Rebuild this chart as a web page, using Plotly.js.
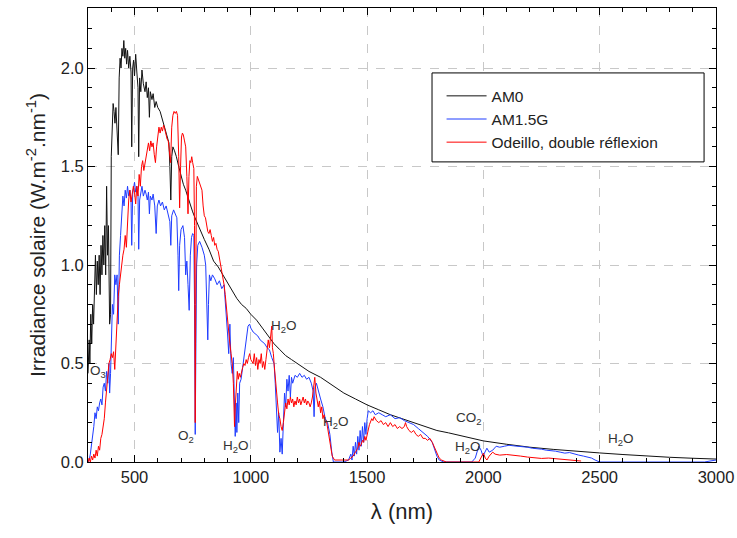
<!DOCTYPE html>
<html>
<head>
<meta charset="utf-8">
<script src="https://cdn.plot.ly/plotly-3.0.1.min.js"></script>
<style>html,body{margin:0;padding:0;background:#fff;}#chart{width:737px;height:538px;}</style>
</head>
<body>
<div id="chart"></div>
<script>
// AM0 spectrum (wavelength nm, irradiance W.m-2.nm-1)
const wlAM0 = [300,305,308,312,316,320,324,328,332,336,340,344,348,352,356,360,364,368,372,376,380,384,388,393,397,400,404,408,412,416,420,425,430,434,438,442,446,450,454,458,462,466,470,475,480,485,488,492,496,500,505,510,515,518,522,527,532,538,545,550,555,560,564,568,575,580,587,593,600,610,620,630,640,648,652,656,660,665,672,680,690,700,710,720,730,740,750,760,770,780,790,800,820,840,860,880,900,920,940,960,980,1000,1025,1050,1075,1100,1125,1150,1175,1200,1250,1300,1350,1400,1450,1500,1550,1600,1650,1700,1750,1800,1850,1900,1950,2000,2100,2200,2300,2400,2500,2600,2700,2800,2900,3000];
const irrAM0 = [0.45,0.62,0.50,0.75,0.60,0.80,0.70,0.95,1.05,0.85,1.02,0.90,1.05,0.85,1.10,0.95,1.15,1.00,1.20,0.95,1.40,1.05,1.20,0.70,0.75,1.55,1.70,1.82,1.78,1.72,1.80,1.70,1.56,1.95,2.05,2.00,2.10,2.06,2.14,2.05,2.10,2.02,2.09,2.00,2.06,1.98,1.60,2.00,2.04,1.96,2.07,1.98,1.90,1.55,1.95,1.88,1.99,1.92,1.88,1.93,1.85,1.90,1.75,1.88,1.84,1.87,1.80,1.83,1.80,1.78,1.74,1.70,1.66,1.62,1.50,1.33,1.55,1.60,1.58,1.55,1.50,1.45,1.41,1.38,1.34,1.30,1.27,1.24,1.21,1.18,1.15,1.13,1.08,1.02,0.99,0.95,0.91,0.87,0.83,0.80,0.78,0.75,0.72,0.68,0.64,0.60,0.57,0.54,0.52,0.50,0.46,0.43,0.39,0.35,0.32,0.29,0.265,0.24,0.22,0.20,0.18,0.16,0.148,0.135,0.12,0.107,0.09,0.075,0.064,0.054,0.046,0.038,0.030,0.024,0.019,0.015];

// AM1.5G spectrum
const wlAM15 = [300,305,310,315,320,325,330,335,340,345,350,355,360,365,370,375,380,385,390,393,397,400,405,410,415,420,425,430,435,440,445,450,455,460,465,470,475,480,485,488,492,496,500,505,510,515,518,522,527,532,538,545,550,555,560,564,568,575,580,587,593,598,605,612,620,628,636,645,652,656,660,668,675,682,687,690,694,700,708,715,720,725,730,735,740,745,750,755,758,761,764,767,772,780,790,800,806,812,815,818,822,828,835,845,855,865,875,885,895,900,905,910,915,920,925,930,933,937,940,944,948,952,958,965,972,980,988,995,1000,1010,1020,1030,1040,1050,1060,1070,1080,1090,1100,1105,1110,1115,1120,1125,1130,1135,1140,1145,1150,1155,1160,1165,1170,1175,1180,1190,1200,1210,1220,1230,1240,1250,1260,1268,1272,1276,1282,1290,1300,1310,1320,1330,1340,1348,1355,1400,1420,1430,1435,1440,1445,1450,1455,1460,1465,1470,1475,1480,1485,1490,1495,1500,1505,1515,1525,1535,1550,1565,1580,1600,1620,1640,1660,1680,1700,1720,1740,1760,1780,1790,1800,1810,1830,1950,1965,1980,1990,1998,2005,2015,2025,2040,2055,2070,2090,2110,2130,2150,2170,2190,2210,2230,2250,2270,2290,2310,2330,2350,2370,2390,2410,2430,2450,2465,2480,2500,2950,2980,3000];
const irrAM15 = [0.00,0.01,0.04,0.08,0.12,0.18,0.25,0.22,0.28,0.26,0.30,0.32,0.29,0.38,0.40,0.36,0.46,0.40,0.50,0.35,0.45,0.62,0.80,0.75,0.95,0.90,0.95,0.70,1.05,1.15,1.25,1.35,1.30,1.38,1.34,1.40,1.35,1.38,1.33,1.10,1.36,1.40,1.42,1.37,1.40,1.35,1.08,1.33,1.38,1.40,1.35,1.38,1.36,1.33,1.37,1.26,1.35,1.33,1.36,1.30,1.16,1.30,1.33,1.30,1.32,1.28,1.30,1.26,1.22,1.10,1.25,1.28,1.26,1.24,1.05,0.87,1.10,1.18,1.20,1.14,0.95,1.02,0.90,0.77,1.05,1.14,1.16,1.15,0.80,0.14,0.60,1.00,1.10,1.12,1.09,1.05,1.00,0.80,0.62,0.80,0.95,0.92,0.95,0.93,0.90,0.92,0.88,0.90,0.75,0.65,0.55,0.70,0.50,0.45,0.53,0.25,0.13,0.30,0.15,0.35,0.20,0.40,0.42,0.48,0.55,0.62,0.69,0.70,0.68,0.66,0.65,0.64,0.62,0.61,0.60,0.58,0.57,0.53,0.50,0.40,0.30,0.15,0.25,0.05,0.12,0.04,0.20,0.35,0.28,0.42,0.36,0.44,0.33,0.43,0.40,0.44,0.43,0.45,0.43,0.44,0.42,0.43,0.40,0.36,0.23,0.38,0.40,0.36,0.32,0.28,0.22,0.20,0.14,0.05,0.00,0.00,0.01,0.04,0.01,0.08,0.03,0.10,0.04,0.13,0.06,0.16,0.08,0.18,0.10,0.20,0.14,0.22,0.26,0.25,0.26,0.24,0.25,0.24,0.23,0.24,0.22,0.225,0.21,0.20,0.19,0.17,0.15,0.13,0.10,0.06,0.03,0.01,0.00,0.00,0.02,0.08,0.06,0.03,0.05,0.07,0.05,0.06,0.08,0.075,0.08,0.085,0.082,0.08,0.078,0.075,0.07,0.068,0.065,0.06,0.058,0.055,0.05,0.045,0.048,0.04,0.035,0.03,0.025,0.02,0.01,0.00,0.00,0.005,0.01];

// Odeillo, double réflexion
const wlOd = [300,305,310,315,320,325,330,335,340,345,350,355,360,365,370,375,380,385,390,395,400,405,410,415,420,425,430,435,440,445,450,455,460,465,470,475,480,485,490,495,500,505,510,515,520,525,530,535,540,545,550,555,560,565,570,575,580,585,590,595,600,605,610,615,620,625,630,635,640,645,650,655,660,665,670,675,680,685,690,694,698,702,706,710,715,720,725,730,734,738,742,746,750,755,758,761,763,766,770,775,780,785,790,795,800,805,810,815,820,825,830,835,840,845,850,855,860,865,870,875,880,885,890,895,900,905,910,915,920,925,930,934,938,942,946,950,955,960,965,970,975,980,985,990,995,1000,1010,1015,1020,1025,1030,1035,1040,1045,1050,1055,1060,1065,1070,1075,1080,1085,1090,1093,1097,1100,1105,1110,1115,1120,1125,1130,1135,1140,1145,1150,1155,1160,1165,1170,1175,1180,1185,1190,1195,1200,1205,1210,1215,1220,1225,1230,1235,1240,1245,1250,1255,1260,1265,1270,1275,1280,1285,1290,1295,1300,1305,1310,1315,1320,1325,1330,1335,1340,1345,1350,1360,1420,1430,1440,1450,1460,1465,1470,1475,1480,1485,1490,1495,1500,1505,1510,1520,1525,1530,1540,1550,1560,1570,1580,1590,1600,1610,1620,1630,1640,1650,1660,1665,1670,1680,1690,1700,1710,1720,1730,1740,1750,1760,1770,1780,1790,1800,1810,1820,1840,1980,1990,2000,2008,2015,2025,2040,2050,2070,2100,2130,2160,2190,2220,2250,2280,2310,2340,2370,2400,2420];
const irrOd = [0.00,0.02,0.00,0.03,0.01,0.04,0.02,0.06,0.03,0.08,0.06,0.12,0.14,0.18,0.22,0.30,0.38,0.45,0.50,0.52,0.55,0.53,0.56,0.47,0.62,0.75,0.84,0.90,0.96,1.00,1.05,1.08,1.15,1.09,1.25,1.33,1.38,1.32,1.36,1.40,1.37,1.31,1.40,1.35,1.46,1.40,1.50,1.53,1.48,1.52,1.55,1.60,1.62,1.58,1.63,1.60,1.62,1.56,1.52,1.60,1.66,1.70,1.67,1.70,1.68,1.71,1.69,1.66,1.64,1.63,1.58,1.52,1.70,1.76,1.78,1.77,1.78,1.76,1.55,1.29,1.50,1.65,1.67,1.66,1.63,1.60,1.45,1.26,1.45,1.53,1.52,1.55,1.52,1.49,1.20,0.20,0.80,1.40,1.45,1.43,1.42,1.40,1.38,1.30,1.25,1.24,1.20,1.17,1.16,1.18,1.15,1.12,1.14,1.10,1.11,1.08,1.07,1.04,1.01,0.97,0.95,0.90,0.85,0.78,0.72,0.68,0.60,0.55,0.50,0.40,0.18,0.30,0.40,0.46,0.42,0.45,0.43,0.46,0.48,0.50,0.49,0.52,0.50,0.53,0.55,0.52,0.50,0.55,0.49,0.53,0.47,0.52,0.50,0.55,0.48,0.51,0.47,0.52,0.57,0.62,0.58,0.64,0.69,0.58,0.55,0.50,0.42,0.33,0.30,0.24,0.22,0.18,0.16,0.20,0.25,0.30,0.27,0.32,0.29,0.33,0.30,0.32,0.28,0.31,0.29,0.33,0.30,0.32,0.29,0.31,0.33,0.30,0.32,0.29,0.31,0.30,0.28,0.30,0.33,0.38,0.43,0.35,0.30,0.28,0.31,0.25,0.28,0.22,0.24,0.20,0.21,0.17,0.15,0.10,0.06,0.03,0.01,0.01,0.02,0.03,0.05,0.07,0.10,0.08,0.09,0.11,0.10,0.13,0.11,0.14,0.16,0.19,0.22,0.21,0.23,0.21,0.20,0.21,0.19,0.20,0.18,0.20,0.18,0.19,0.17,0.18,0.17,0.18,0.20,0.18,0.16,0.15,0.16,0.14,0.13,0.14,0.12,0.12,0.11,0.12,0.10,0.07,0.04,0.02,0.01,0.00,0.00,0.02,0.045,0.02,0.01,0.03,0.05,0.04,0.035,0.038,0.035,0.03,0.025,0.02,0.018,0.02,0.017,0.015,0.013,0.01,0.005];

const seriesNames = ["AM0", "AM1.5G", "Odeillo, double réflexion"];

// Absorption-band labels
const bandText = ["O<sub>3</sub>","O<sub>2</sub>","H<sub>2</sub>O","H<sub>2</sub>O","H<sub>2</sub>O","CO<sub>2</sub>","H<sub>2</sub>O","H<sub>2</sub>O"];
const bandX = [302, 677, 872, 1078, 1302, 1872, 1868, 2525];
const bandY = [0.46, 0.13, 0.08, 0.69, 0.2, 0.22, 0.075, 0.115];

const FONT = "Liberation Sans, Arial, sans-serif";

const traces = [
  {x: wlAM0, y: irrAM0, name: seriesNames[0], type: "scatter", mode: "lines", line: {color: "#111111", width: 1}},
  {x: wlAM15, y: irrAM15, name: seriesNames[1], type: "scatter", mode: "lines", line: {color: "#1f3cff", width: 1}},
  {x: wlOd, y: irrOd, name: seriesNames[2], type: "scatter", mode: "lines", line: {color: "#ff0000", width: 1}}
];

const annotations = bandText.map((t, i) => ({
  x: bandX[i], y: bandY[i], xref: "x", yref: "y", text: t, showarrow: false,
  xanchor: "left", yanchor: "middle",
  font: {family: FONT, size: 13.5, color: "#333333"}
}));

const axisCommon = {
  showline: true, linecolor: "#000", linewidth: 1, mirror: "ticks",
  ticks: "inside", ticklen: 7, tickcolor: "#000", tickwidth: 1,
  showgrid: true, gridcolor: "#c8c8c8", griddash: "dash", gridwidth: 1,
  zeroline: false,
  tickfont: {family: FONT, size: 16.5, color: "#222"}
};

const layout = {
  width: 737, height: 538,
  margin: {l: 88, r: 21, t: 8, b: 76},
  paper_bgcolor: "#fff", plot_bgcolor: "#fff",
  font: {family: FONT, color: "#222"},
  showlegend: true,
  legend: {
    x: 0.563, y: 0.843, xanchor: "left", yanchor: "top",
    bgcolor: "rgba(0,0,0,0)", borderwidth: 0,
    itemwidth: 40,
    font: {family: FONT, size: 15.5, color: "#222"},
    tracegroupgap: 0
  },
  shapes: [{
    type: "rect", xref: "paper", yref: "paper",
    x0: 0.5478, x1: 0.981, y0: 0.661, y1: 0.857,
    line: {color: "#000", width: 1}, fillcolor: "#fff", layer: "above"
  }],
  xaxis: Object.assign({}, axisCommon, {
    range: [300, 3000], tick0: 0, dtick: 500,
    minor: {dtick: 100, ticks: "inside", ticklen: 4, tickcolor: "#000", showgrid: false},
    title: {text: "λ (nm)", font: {family: FONT, size: 22, color: "#222"}, standoff: 18}
  }),
  yaxis: Object.assign({}, axisCommon, {
    range: [0, 2.305], tick0: 0, dtick: 0.5, tickformat: ".1f",
    minor: {dtick: 0.1, ticks: "inside", ticklen: 4, tickcolor: "#000", showgrid: false},
    title: {text: "Irradiance solaire (W.m<sup>-2</sup>.nm<sup>-1</sup>)", font: {family: FONT, size: 21, color: "#222"}, standoff: 9}
  }),
  annotations: annotations
};

Plotly.newPlot("chart", traces, layout, {displayModeBar: false, staticPlot: true});
</script>
</body>
</html>
